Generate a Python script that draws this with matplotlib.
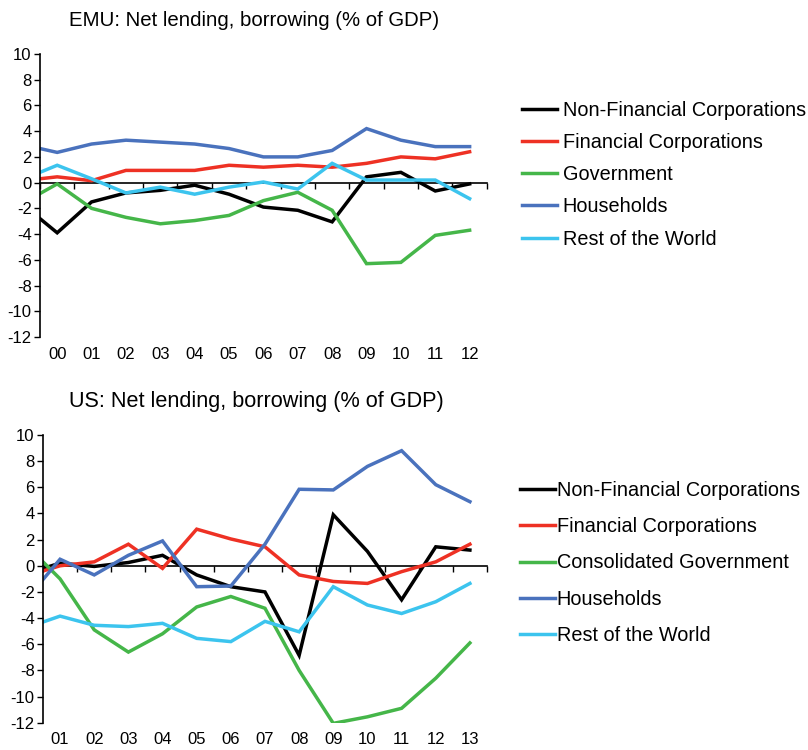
import matplotlib
matplotlib.use("Agg")
import matplotlib.pyplot as plt
import numpy as np

plt.rcParams['font.family'] = ['Liberation Sans', 'DejaVu Sans']
plt.rcParams['axes.unicode_minus'] = False

_BLACK = '#000000'
_RED = '#EE3124'
_GREEN = '#45B649'
_BLUE = '#4A72BD'
_CYAN = '#3CC4EE'

_TICK_SIZE = 12
_LEGEND_SIZE = 14.3

# first point of every series sits on the y axis (half a year before the first label)
emu_years = ['00', '01', '02', '03', '04', '05', '06', '07', '08', '09', '10', '11', '12']
emu_nfc = [-2.8, -3.9, -1.5, -0.8, -0.6, -0.2, -0.9, -1.9, -2.15, -3.05, 0.45, 0.8, -0.65, -0.1]
emu_fc = [0.3, 0.45, 0.15, 0.95, 0.95, 0.95, 1.35, 1.2, 1.35, 1.2, 1.5, 2.0, 1.85, 2.4]
emu_gov = [-0.85, -0.1, -2.0, -2.7, -3.2, -2.95, -2.55, -1.4, -0.75, -2.15, -6.3, -6.2, -4.1, -3.7]
emu_hh = [2.65, 2.35, 3.0, 3.3, 3.15, 3.0, 2.65, 2.0, 2.0, 2.5, 4.2, 3.3, 2.8, 2.8]
emu_row = [0.8, 1.35, 0.3, -0.8, -0.35, -0.9, -0.35, 0.05, -0.5, 1.5, 0.2, 0.2, 0.2, -1.25]
emu_labels = ['Non-Financial Corporations', 'Financial Corporations', 'Government',
              'Households', 'Rest of the World']

us_years = ['01', '02', '03', '04', '05', '06', '07', '08', '09', '10', '11', '12', '13']
us_nfc = [-0.2, 0.2, -0.05, 0.25, 0.8, -0.7, -1.6, -2.0, -6.85, 3.9, 1.1, -2.6, 1.45, 1.2]
us_fc = [-0.4, 0.0, 0.3, 1.65, -0.2, 2.8, 2.05, 1.45, -0.7, -1.2, -1.35, -0.45, 0.3, 1.65]
us_gov = [0.3, -1.0, -4.9, -6.6, -5.2, -3.15, -2.35, -3.25, -8.0, -12.05, -11.55, -10.9, -8.6, -5.9]
us_hh = [-1.05, 0.5, -0.7, 0.8, 1.9, -1.6, -1.55, 1.65, 5.85, 5.8, 7.6, 8.8, 6.2, 4.9]
us_row = [-4.3, -3.85, -4.55, -4.65, -4.4, -5.55, -5.8, -4.25, -5.05, -1.6, -3.0, -3.65, -2.75, -1.35]
us_labels = ['Non-Financial Corporations', 'Financial Corporations', 'Consolidated Government',
             'Households', 'Rest of the World']

_COLORS = [_BLACK, _RED, _GREEN, _BLUE, _CYAN]
_YMIN, _YMAX = -12, 10


def _draw_panel(ax, title, title_size, years, series, labels):
    n = len(years)
    x = np.concatenate([[-0.5], np.arange(n)])
    handles = []
    for values, color, label in zip(series, _COLORS, labels):
        h, = ax.plot(x, values, color=color, lw=2.5, label=label, solid_joinstyle='miter')
        handles.append(h)

    ax.set_xlim(-0.5, n - 0.5)
    ax.set_ylim(_YMIN, _YMAX)
    ax.set_yticks(np.arange(_YMIN, _YMAX + 1, 2))
    ax.tick_params(axis='y', direction='out', length=4, width=1, pad=2,
                   labelsize=_TICK_SIZE)
    for side in ('top', 'right', 'bottom'):
        ax.spines[side].set_visible(False)
    ax.spines['left'].set_linewidth(1.2)

    ax.set_xticks(np.arange(n), years)
    ax.tick_params(axis='x', length=0, pad=7, labelsize=_TICK_SIZE)

    # zero line carrying the year-boundary tick marks
    zero = (0 - _YMIN) / (_YMAX - _YMIN)
    sec = ax.secondary_xaxis(zero)
    sec.set_alignment('bottom')
    sec.set_xticks(np.arange(-0.5, n, 1.0))
    sec.tick_params(axis='x', direction='out', length=4, width=1,
                    labelbottom=False, labeltop=False)
    sec.spines['bottom'].set_linewidth(1.2)

    ax.set_title(title, fontsize=title_size, pad=20, x=0.48)
    return handles


fig = plt.figure(figsize=(8.08, 7.5), dpi=100)

ax1 = fig.add_axes([0.0495, 0.5507, 0.553, 0.3773])
h1 = _draw_panel(ax1, 'EMU: Net lending, borrowing (% of GDP)', 14.7, emu_years,
                 [emu_nfc, emu_fc, emu_gov, emu_hh, emu_row], emu_labels)
fig.legend(handles=h1, loc='upper left', bbox_to_anchor=(0.646, 0.866),
           frameon=False, fontsize=_LEGEND_SIZE, handlelength=1.75,
           handletextpad=0.3, labelspacing=0.67, borderaxespad=0, borderpad=0)

ax2 = fig.add_axes([0.0532, 0.0364, 0.5495, 0.3836])
h2 = _draw_panel(ax2, 'US: Net lending, borrowing (% of GDP)', 15.6, us_years,
                 [us_nfc, us_fc, us_gov, us_hh, us_row], us_labels)
fig.legend(handles=h2, loc='upper left', bbox_to_anchor=(0.6436, 0.3593),
           frameon=False, fontsize=_LEGEND_SIZE, handlelength=1.75,
           handletextpad=0.1, labelspacing=0.88, borderaxespad=0, borderpad=0)

fig.savefig('out.png', dpi=100)
